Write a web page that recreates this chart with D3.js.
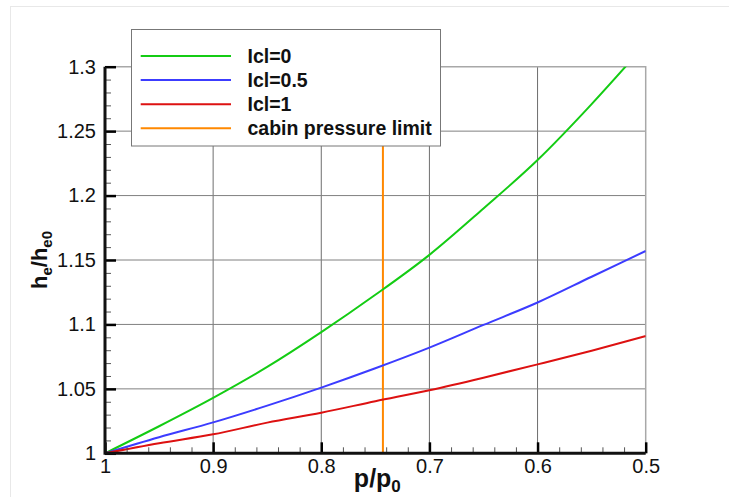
<!DOCTYPE html>
<html>
<head>
<meta charset="utf-8">
<script src="https://cdn.jsdelivr.net/npm/d3@7"></script>
<style>
  html, body { margin: 0; padding: 0; background: #fff; }
  svg { display: block; font-family: "Liberation Sans", Arial, Helvetica, sans-serif; }
</style>
</head>
<body>
<svg id="chart" width="729" height="497"></svg>
<script>
// ---- data ----
const pRatio = [1, 0.95, 0.9, 0.85, 0.8, 0.75, 0.7, 0.65, 0.6, 0.55, 0.5];
const pRatioGreen = [1, 0.95, 0.9, 0.85, 0.8, 0.75, 0.7, 0.65, 0.6, 0.55, 0.515];
const icl0   = [1, 1.021, 1.043, 1.067, 1.094, 1.123, 1.154, 1.190, 1.2276, 1.271, 1.3035];
const icl05  = [1, 1.0125, 1.024, 1.037, 1.051, 1.066, 1.082, 1.0996, 1.117, 1.137, 1.157];
const icl1   = [1, 1.0078, 1.0147, 1.0238, 1.0315, 1.0404, 1.049, 1.0587, 1.069, 1.0796, 1.091];
const cabinLimit = 0.743;
const seriesNames = ["Icl=0", "Icl=0.5", "Icl=1", "cabin pressure limit"];
const seriesColors = ["#14cc14", "#3c3cff", "#dd1111", "#ff8800"];
const xTicks = [1, 0.9, 0.8, 0.7, 0.6, 0.5];
const xTickLabels = ["1", "0.9", "0.8", "0.7", "0.6", "0.5"];
const yTicks = [1, 1.05, 1.1, 1.15, 1.2, 1.25, 1.3];
const yTickLabels = ["1", "1.05", "1.1", "1.15", "1.2", "1.25", "1.3"];

// ---- layout ----
const svg = d3.select("#chart");
const x = d3.scaleLinear().domain([1, 0.5]).range([105, 645.7]);
const y = d3.scaleLinear().domain([1, 1.3]).range([453.3, 66.7]);
const [x0, x1] = x.range();
const [yB, yT] = y.range();

// faint outer frame
svg.append("rect").attr("x", 10.5).attr("y", 6.5).attr("width", 740).attr("height", 520)
  .attr("fill", "none").attr("stroke", "#e8e8e8").attr("stroke-width", 1);

// grid
const grid = svg.append("g");
grid.selectAll("line.v").data(xTicks.filter(d => d !== 1 && d !== 0.5)).join("line")
  .attr("x1", d => x(d)).attr("x2", d => x(d)).attr("y1", yT).attr("y2", yB)
  .attr("stroke", "#6e6e6e").attr("stroke-width", 1);
grid.selectAll("line.h").data(yTicks.filter(d => d !== 1 && d !== 1.3)).join("line")
  .attr("x1", x0).attr("x2", x1).attr("y1", d => y(d)).attr("y2", d => y(d))
  .attr("stroke", "#808080").attr("stroke-width", 1);
// top and right frame
svg.append("path").attr("d", `M${x0},${yT}H${x1}V${yB}`)
  .attr("fill", "none").attr("stroke", "#a8a8a8").attr("stroke-width", 1.5);

// clip
svg.append("clipPath").attr("id", "clip").append("rect")
  .attr("x", x0).attr("y", yT).attr("width", x1 - x0).attr("height", yB - yT);

// orange limit line
svg.append("line").attr("x1", x(cabinLimit)).attr("x2", x(cabinLimit))
  .attr("y1", yT + 60).attr("y2", yB)
  .attr("stroke", seriesColors[3]).attr("stroke-width", 2);

// curves
const line = d3.line().x(d => x(d[0])).y(d => y(d[1])).curve(d3.curveMonotoneX);
const curves = [
  d3.zip(pRatioGreen, icl0),
  d3.zip(pRatio, icl05),
  d3.zip(pRatio, icl1)
];
svg.append("g").attr("clip-path", "url(#clip)").selectAll("path").data(curves).join("path")
  .attr("d", line).attr("fill", "none")
  .attr("stroke", (d, i) => seriesColors[i]).attr("stroke-width", 2);

// axes
const minorY = d3.range(100, 131).map(v => v / 100).filter(v => Math.round(v * 100) % 5 !== 0);
const minorX = d3.range(50, 101, 2).map(v => v / 100).filter(v => Math.round(v * 100) % 10 !== 0);

const ay = svg.append("g").attr("transform", `translate(${x0},0)`);
ay.call(d3.axisLeft(y).tickValues(minorY).tickSize(-6).tickFormat(""));
ay.selectAll(".tick line").attr("stroke", "#555").attr("stroke-width", 1);
ay.select(".domain").remove();
const ayM = svg.append("g").attr("transform", `translate(${x0},0)`);
ayM.call(d3.axisLeft(y).tickValues(yTicks).tickSize(-11).tickPadding(9)
  .tickFormat((d, i) => yTickLabels[i]));
ayM.select(".domain").remove();
ayM.selectAll(".tick line").attr("stroke", "#000").attr("stroke-width", 2.5);
ayM.selectAll(".tick text").attr("font-size", 20).attr("fill", "#111")
  .attr("font-family", "Liberation Sans, Arial, sans-serif");

const ax = svg.append("g").attr("transform", `translate(0,${yB})`);
ax.call(d3.axisBottom(x).tickValues(minorX).tickSize(-6).tickFormat(""));
ax.selectAll(".tick line").attr("stroke", "#555").attr("stroke-width", 1);
ax.select(".domain").remove();
const axM = svg.append("g").attr("transform", `translate(0,${yB})`);
axM.call(d3.axisBottom(x).tickValues(xTicks).tickSize(-11).tickPadding(6)
  .tickFormat((d, i) => xTickLabels[i]));
axM.select(".domain").remove();
axM.selectAll(".tick line").attr("stroke", "#000").attr("stroke-width", 2.5);
axM.selectAll(".tick text").attr("font-size", 20).attr("fill", "#111")
  .attr("font-family", "Liberation Sans, Arial, sans-serif");

// axis lines
svg.append("path").attr("d", `M${x0},${yT}V${yB}H${x1}`)
  .attr("fill", "none").attr("stroke", "#111").attr("stroke-width", 3);

// axis titles
const yl = svg.append("text").attr("transform", `translate(47,260) rotate(-90)`)
  .attr("text-anchor", "middle").attr("font-weight", "bold").attr("font-size", 22).attr("fill", "#111");
yl.append("tspan").text("h");
yl.append("tspan").attr("dy", 5).attr("font-size", 15).text("e");
yl.append("tspan").attr("dy", -5).text("/h");
yl.append("tspan").attr("dy", 5).attr("font-size", 15).text("e0");

const xl = svg.append("text").attr("x", (x0 + x1) / 2 + 2).attr("y", 487)
  .attr("text-anchor", "middle").attr("font-weight", "bold").attr("font-size", 25).attr("fill", "#111");
xl.append("tspan").text("p/p");
xl.append("tspan").attr("dy", 5).attr("font-size", 17).text("0");

// legend
const lg = svg.append("g");
lg.append("rect").attr("x", 131.5).attr("y", 29.5).attr("width", 309).attr("height", 116.5)
  .attr("fill", "#fff").attr("stroke", "#777").attr("stroke-width", 1);
const rowY = d3.scaleLinear().domain([0, 3]).range([56, 128.3]);
const items = lg.selectAll("g.item").data(seriesNames).join("g")
  .attr("transform", (d, i) => `translate(0,${rowY(i)})`);
items.append("line").attr("x1", 140.7).attr("x2", 231).attr("y1", 0).attr("y2", 0)
  .attr("stroke", (d, i) => seriesColors[i]).attr("stroke-width", 2);
items.append("text").attr("x", 247.5).attr("y", 7).attr("font-size", 19.5).attr("font-weight", "bold")
  .attr("fill", "#111").text(d => d);
</script>
</body>
</html>
